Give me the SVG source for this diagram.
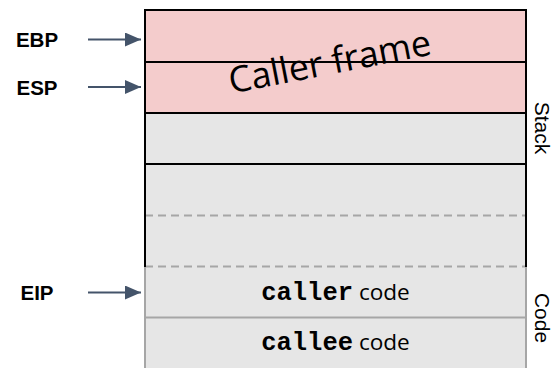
<svg xmlns="http://www.w3.org/2000/svg" width="555" height="368" viewBox="0 0 555 368">
  <defs>
    <style>
      .reg { font-family: "Liberation Sans", Arial, sans-serif; font-weight: bold; font-size: 20.5px; fill: #000; }
      .side { font-family: "Liberation Sans", Arial, sans-serif; font-size: 21px; fill: #000; }
      .mono { font-family: "Liberation Mono", "Courier New", monospace; font-weight: bold; font-size: 25.5px; }
      .lbl { font-family: "Open Sans", "Liberation Sans", sans-serif; font-size: 22.6px; fill: #000; }
      .ptr { stroke: #44546A; stroke-width: 2; fill: none; }
      .solid { stroke: #000; stroke-width: 2; fill: none; }
      .dash { stroke: #A6A6A6; stroke-width: 2; stroke-dasharray: 8 5; fill: none; }
      .thin { stroke: #A6A6A6; stroke-width: 2; fill: none; }
    </style>
    <marker id="head" viewBox="0 0 16 14" refX="16" refY="7" markerWidth="16" markerHeight="14" markerUnits="userSpaceOnUse" orient="auto">
      <path d="M0,0 L16,7 L0,14 Z" fill="#44546A"/>
    </marker>
  </defs>

  <rect width="555" height="368" fill="#fff"/>

  <!-- stack region -->
  <g id="stack">
    <rect x="145" y="10" width="381" height="103" fill="#F4CCCC"/>
    <rect x="145" y="113" width="381" height="255" fill="#E6E6E6"/>
    <line class="dash" x1="145" y1="215.5" x2="526" y2="215.5"/>
    <line class="dash" x1="145" y1="266.5" x2="526" y2="266.5"/>
    <path class="solid" d="M145,267 V10 H526 V267"/>
    <line class="solid" x1="145" y1="62" x2="526" y2="62"/>
    <line class="solid" x1="145" y1="113" x2="526" y2="113"/>
    <line class="solid" x1="145" y1="164" x2="526" y2="164"/>
    <text class="side" transform="translate(535,128) rotate(90)" text-anchor="middle">Stack</text>
  </g>

  <g id="caller-frame">
    <text transform="translate(332,74) rotate(-11)" text-anchor="middle" font-family="'Open Sans', 'Liberation Sans', sans-serif" font-size="36px" fill="#000">Caller frame</text>
  </g>

  <!-- code region -->
  <g id="code">
    <path class="thin" d="M145,267 V368 M526,267 V368"/>
    <line class="thin" x1="145" y1="317.5" x2="526" y2="317.5"/>
    <text x="335.5" y="300" text-anchor="middle"><tspan class="mono">caller</tspan><tspan class="lbl"> code</tspan></text>
    <text x="335.5" y="350" text-anchor="middle"><tspan class="mono">callee</tspan><tspan class="lbl"> code</tspan></text>
    <text class="side" transform="translate(535,318) rotate(90)" text-anchor="middle">Code</text>
  </g>

  <!-- register labels -->
  <g id="ebp"><text class="reg" x="37" y="47" text-anchor="middle">EBP</text></g>
  <g id="esp"><text class="reg" x="37" y="94.5" text-anchor="middle">ESP</text></g>
  <g id="eip"><text class="reg" x="37" y="300" text-anchor="middle">EIP</text></g>

  <g id="connectors">
    <line class="ptr" x1="88" y1="39.5" x2="141" y2="39.5" marker-end="url(#head)"/>
    <line class="ptr" x1="88" y1="87" x2="141" y2="87" marker-end="url(#head)"/>
    <line class="ptr" x1="88" y1="292.5" x2="141" y2="292.5" marker-end="url(#head)"/>
  </g>
</svg>
